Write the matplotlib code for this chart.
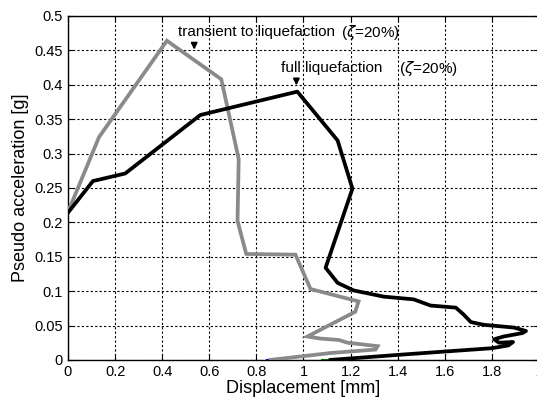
import matplotlib
matplotlib.use("Agg")
import matplotlib.pyplot as plt

plt.rcParams['font.family'] = ['Liberation Sans', 'DejaVu Sans']

# transient to liquefaction (gray)
gray_x = [0.0, 0.132, 0.42, 0.651, 0.725, 0.72, 0.757, 0.966, 1.03, 1.234, 1.22,
          1.017, 1.072, 1.15, 1.187, 1.315, 1.306, 1.115, 0.86]
gray_y = [0.215, 0.324, 0.464, 0.408, 0.292, 0.202, 0.154, 0.153, 0.103, 0.085, 0.07,
          0.034, 0.031, 0.029, 0.025, 0.02, 0.015, 0.01, 0.0]

# full liquefaction (black)
black_x = [0.0, 0.106, 0.243, 0.562, 0.974, 1.145, 1.208, 1.094, 1.145, 1.213, 1.34,
           1.468, 1.54, 1.647, 1.68, 1.711, 1.766, 1.894, 1.945, 1.93, 1.85, 1.81,
           1.83, 1.89, 1.87, 1.80, 1.43, 1.115]
black_y = [0.214, 0.26, 0.271, 0.356, 0.39, 0.319, 0.249, 0.134, 0.112, 0.101, 0.092,
           0.088, 0.079, 0.076, 0.066, 0.055, 0.051, 0.047, 0.042, 0.039, 0.034, 0.030,
           0.025, 0.026, 0.021, 0.017, 0.008, 0.0]

blue_x = [0.845, 0.87]
blue_y = [0.0, 0.0]
green_x = [1.08, 1.11]
green_y = [0.0, 0.0]

xticks = [0, 0.2, 0.4, 0.6, 0.8, 1, 1.2, 1.4, 1.6, 1.8, 2]
yticks = [0, 0.05, 0.1, 0.15, 0.2, 0.25, 0.3, 0.35, 0.4, 0.45, 0.5]

fig = plt.figure(figsize=(5.37, 3.99), dpi=100)
ax = fig.add_axes([0.1266, 0.098, 0.877, 0.862])

ax.plot(gray_x, gray_y, color='#8a8a8a', lw=2.7, solid_joinstyle='miter', zorder=3)
ax.plot(black_x, black_y, color='black', lw=2.7, solid_joinstyle='round', zorder=4)
ax.plot(blue_x, blue_y, color='blue', lw=1.5, zorder=2)
ax.plot(green_x, green_y, color='green', lw=1.5, zorder=2)

ax.set_xlim(0, 2)
ax.set_ylim(0, 0.5)
ax.set_xticks(xticks)
ax.set_yticks(yticks)
ax.set_xticklabels(['0', '0.2', '0.4', '0.6', '0.8', '1', '1.2', '1.4', '1.6', '1.8', '2'])
ax.set_yticklabels(['0', '0.05', '0.1', '0.15', '0.2', '0.25', '0.3', '0.35', '0.4', '0.45', '0.5'])
ax.tick_params(direction='in', labelsize=10.5, length=4, top=True, right=True)
ax.grid(True, color='black', linestyle=(0, (2, 2)), linewidth=0.8)
for s in ax.spines.values():
    s.set_linewidth(1.0)

ax.set_xlabel('Displacement [mm]', fontsize=13, labelpad=1)
ax.set_ylabel('Pseudo acceleration [g]', fontsize=13, labelpad=4)

ax.text(0.468, 0.476, 'transient to liquefaction', fontsize=11, va='center', ha='left')
ax.text(1.16, 0.476, r'($\zeta$=20%)', fontsize=11, va='center', ha='left')
ax.annotate('', xy=(0.536, 0.447), xytext=(0.536, 0.465),
            arrowprops=dict(arrowstyle='-|>', color='black', lw=1.3, mutation_scale=9))
ax.text(0.906, 0.424, 'full liquefaction', fontsize=11, va='center', ha='left')
ax.text(1.405, 0.424, r'($\zeta$=20%)', fontsize=11, va='center', ha='left')
ax.annotate('', xy=(0.97, 0.395), xytext=(0.97, 0.413),
            arrowprops=dict(arrowstyle='-|>', color='black', lw=1.3, mutation_scale=9))

fig.savefig('out.png', dpi=100)
